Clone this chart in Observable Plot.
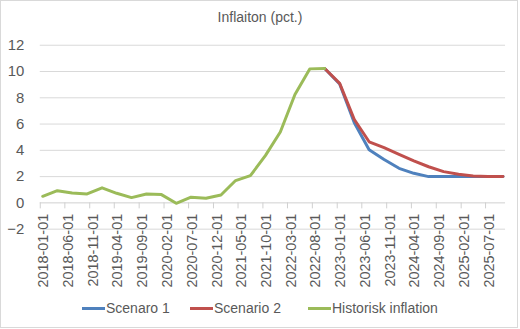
<!DOCTYPE html>
<html>
<head>
<meta charset="utf-8">
<script src="https://cdn.jsdelivr.net/npm/d3@7"></script>
<script src="https://cdn.jsdelivr.net/npm/@observablehq/plot@0.6"></script>
<style>
  html, body { margin: 0; padding: 0; background: #fff; }
  #frame { position: relative; width: 518px; height: 328px; border: 1px solid #d9d9d9; box-sizing: border-box; background: #fff; font-family: "Liberation Sans", Arial, sans-serif; overflow: hidden; }
  #title { position: absolute; left: 0; width: 518px; top: 8px; text-align: center; font-size: 14px; color: #595959; }
  #chart { position: absolute; left: -1px; top: -1px; }
  #legend { position: absolute; top: 299px; left: 0; width: 100%; font-size: 14px; color: #595959; }
  .item { position: absolute; display: flex; align-items: center; white-space: nowrap; }
  .swatch { display: inline-block; width: 23px; height: 3px; margin-right: 1px; }
</style>
</head>
<body>
<div id="frame">
  <div id="title">Inflaiton (pct.)</div>
  <div id="chart"></div>
  <div id="legend"></div>
</div>
<script>
// Quarterly observation months
const histMonths = ["2018-01","2018-04","2018-07","2018-10","2019-01","2019-04","2019-07","2019-10",
  "2020-01","2020-04","2020-07","2020-10","2021-01","2021-04","2021-07","2021-10",
  "2022-01","2022-04","2022-07","2022-10"];
const histValues = [0.5, 0.93, 0.75, 0.68, 1.15, 0.73, 0.4, 0.68, 0.63, -0.03, 0.43, 0.35, 0.6, 1.7, 2.07, 3.6, 5.4, 8.25, 10.2, 10.23];

const scenMonths = ["2022-10","2023-01","2023-04","2023-07","2023-10","2024-01","2024-04","2024-07",
  "2024-10","2025-01","2025-04","2025-07","2025-10"];
const scen1Values = [10.23, 9.05, 6.1, 4.05, 3.3, 2.63, 2.25, 2.0, 2.0, 2.0, 2.0, 2.0, 2.0];
const scen2Values = [10.23, 9.1, 6.35, 4.65, 4.2, 3.7, 3.2, 2.75, 2.38, 2.18, 2.05, 2.0, 2.0];

const tickLabels = ["2018-01-01","2018-06-01","2018-11-01","2019-04-01","2019-09-01","2020-02-01",
  "2020-07-01","2020-12-01","2021-05-01","2021-10-01","2022-03-01","2022-08-01","2023-01-01",
  "2023-06-01","2023-11-01","2024-04-01","2024-09-01","2025-02-01","2025-07-01"];
const yTicks = [-2, 0, 2, 4, 6, 8, 10, 12];

const seriesNames = ["Scenaro 1", "Scenario 2", "Historisk inflation"];
const seriesColors = ["#4f81bd", "#c0504d", "#9bbb59"];

// category (month) start and centre
const monthStart = s => { const [y, m] = s.split("-").map(Number); return new Date(Date.UTC(y, m - 1, 1)); };
const monthMid = s => { const [y, m] = s.split("-").map(Number); return new Date(Date.UTC(y, m - 1, 16)); };

const hist = histMonths.map((m, i) => ({date: monthMid(m), value: histValues[i]}));
const s1 = scenMonths.map((m, i) => ({date: monthMid(m), value: scen1Values[i]}));
const s2 = scenMonths.map((m, i) => ({date: monthMid(m), value: scen2Values[i]}));
const ticks = tickLabels.map(t => ({start: monthStart(t.slice(0, 7)), mid: monthMid(t.slice(0, 7)), label: t}));

const lineOpts = {x: "date", y: "value", strokeWidth: 3, strokeLinejoin: "round", strokeLinecap: "round"};

const chart = Plot.plot({
  width: 520,
  height: 296,
  marginLeft: 40,
  marginRight: 12,
  marginTop: 45,
  marginBottom: 66,
  style: {fontFamily: "'Liberation Sans', Arial, sans-serif", fontSize: "14px", color: "#595959", background: "transparent"},
  x: {type: "utc", domain: [monthStart("2018-01"), monthStart("2025-11")], axis: null},
  y: {domain: [-2, 12], ticks: yTicks, axis: null},
  marks: [
    Plot.ruleY(yTicks.filter(v => v !== 0), {stroke: "#d9d9d9", strokeWidth: 1}),
    Plot.ruleY([0], {stroke: "#d0d0d0", strokeWidth: 1}),
    Plot.axisY({ticks: yTicks, tickSize: 0, tickPadding: 16, fontSize: 15, fill: "#595959", label: null}),
    Plot.ruleX(ticks, {x: "start", y1: 0, y2: 0, insetBottom: -6, stroke: "#d0d0d0", strokeWidth: 1}),
    Plot.text(ticks, {x: "mid", y: 0, text: "label", rotate: -90, textAnchor: "end", dy: 11, dx: 1, fontSize: 14.5, fill: "#595959"}),
    Plot.line(s1, {...lineOpts, stroke: seriesColors[0]}),
    Plot.line(s2, {...lineOpts, stroke: seriesColors[1]}),
    Plot.line(hist, {...lineOpts, stroke: seriesColors[2]})
  ]
});
document.getElementById("chart").appendChild(chart);

const legendPos = [81, 189, 307];
const legend = document.getElementById("legend");
seriesNames.forEach((name, i) => {
  const item = document.createElement("div");
  item.className = "item";
  item.style.left = legendPos[i] + "px";
  const sw = document.createElement("span");
  sw.className = "swatch";
  sw.style.background = seriesColors[i];
  const tx = document.createElement("span");
  tx.textContent = name;
  item.appendChild(sw);
  item.appendChild(tx);
  legend.appendChild(item);
});
</script>
</body>
</html>
